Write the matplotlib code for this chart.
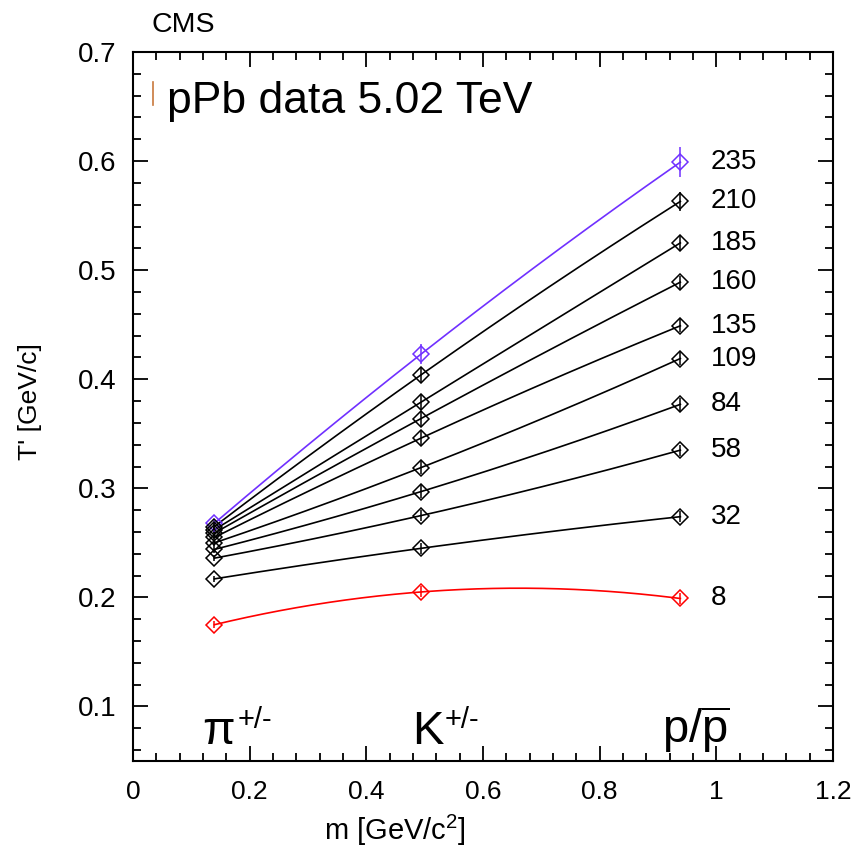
import numpy as np
import matplotlib
matplotlib.use("Agg")
import matplotlib.pyplot as plt
from matplotlib.ticker import MultipleLocator
from matplotlib.transforms import offset_copy

plt.rcParams['font.family'] = ['Liberation Sans', 'DejaVu Sans']
plt.rcParams['mathtext.fontset'] = 'custom'
plt.rcParams['mathtext.rm'] = 'Liberation Sans'
plt.rcParams['mathtext.it'] = 'Liberation Sans'
plt.rcParams['mathtext.bf'] = 'Liberation Sans:bold'

# ---- data ----
mass = [0.1396, 0.4937, 0.9383]          # pi, K, p masses [GeV/c^2]
mult = ['235', '210', '185', '160', '135', '109', '84', '58', '32', '8']
T_pi = [0.268, 0.265, 0.262, 0.259, 0.255, 0.250, 0.244, 0.236, 0.217, 0.175]
T_K = [0.423, 0.404, 0.379, 0.364, 0.346, 0.319, 0.297, 0.275, 0.245, 0.205]
T_p = [0.599, 0.563, 0.525, 0.489, 0.449, 0.419, 0.377, 0.335, 0.274, 0.199]
err_pi = [0.004, 0.003, 0.003, 0.003, 0.003, 0.003, 0.003, 0.003, 0.003, 0.003]
err_K = [0.009, 0.007, 0.007, 0.007, 0.007, 0.006, 0.006, 0.005, 0.005, 0.005]
err_p = [0.014, 0.009, 0.007, 0.006, 0.006, 0.006, 0.006, 0.005, 0.005, 0.005]

colors = ['#7030ff'] + ['black'] * 8 + ['#ff0000']

fig = plt.figure(figsize=(8.61, 8.55), dpi=100)
ax = fig.add_axes([0.1545, 0.1099, 0.8130, 0.8293])

xs = np.linspace(mass[0], mass[-1], 200)
for i in range(len(mult)):
    ys = [T_pi[i], T_K[i], T_p[i]]
    es = [err_pi[i], err_K[i], err_p[i]]
    c = colors[i]
    coef = np.polyfit(mass, ys, 2)
    ax.plot(xs, np.polyval(coef, xs), color=c, lw=1.2, zorder=2)
    ax.errorbar(mass, ys, yerr=es, fmt='D', ms=8.3, mfc='none', mec=c,
                mew=1.1, ecolor=c, elinewidth=1.1, capsize=0, zorder=3)
    ax.text(0.99, T_p[i], mult[i], ha='left', va='center', fontsize=20,
            color='black')

ax.set_xlim(0, 1.2)
ax.set_ylim(0.05, 0.7)
ax.xaxis.set_major_locator(MultipleLocator(0.2))
ax.xaxis.set_minor_locator(MultipleLocator(0.04))
ax.yaxis.set_major_locator(MultipleLocator(0.1))
ax.yaxis.set_minor_locator(MultipleLocator(0.02))
ax.set_xticks([0, 0.2, 0.4, 0.6, 0.8, 1.0, 1.2])
ax.set_xticklabels(['0', '0.2', '0.4', '0.6', '0.8', '1', '1.2'])
ax.set_yticks([0.1, 0.2, 0.3, 0.4, 0.5, 0.6, 0.7])
ax.set_yticklabels(['0.1', '0.2', '0.3', '0.4', '0.5', '0.6', '0.7'])
ax.tick_params(which='both', direction='in', top=True, right=True, width=1.3)
ax.tick_params(which='major', length=11)
ax.tick_params(which='minor', length=6)
ax.tick_params(axis='y', labelsize=20, pad=12)
ax.tick_params(axis='x', labelsize=19, pad=14)
for s in ax.spines.values():
    s.set_linewidth(1.5)

# particle labels (main symbol + superscript)
def sup_label(x, y, main, sup, dx):
    ax.text(x, y, main, fontsize=34, ha='left', va='baseline')
    tr = offset_copy(ax.transData, fig=fig, x=dx, y=11, units='points')
    ax.text(x, y, sup, fontsize=21, ha='left', va='baseline', transform=tr)

sup_label(0.118, 0.066, '\u03c0', '+/-', 26)
sup_label(0.478, 0.066, 'K', '+/-', 23.5)
ax.text(0.907, 0.066, r'$p/\overline{p}$', fontsize=34, ha='left', va='baseline')

ax.text(0.058, 0.644, 'pPb data 5.02 TeV', fontsize=32, ha='left', va='baseline')
ax.plot([0.0343, 0.0343], [0.6514, 0.6725], color='#c8783c', lw=1.2)

fig.text(0.1765, 0.9626, 'CMS', fontsize=20.5, ha='left', va='baseline')
fig.text(0.4588, 0.029, r'm [GeV/c$^{2}$]', fontsize=21, ha='center', va='center')
fig.text(0.035, 0.53, "T' [GeV/c]", fontsize=19, rotation=90, ha='center', va='center')

fig.savefig('out.png', dpi=100)
